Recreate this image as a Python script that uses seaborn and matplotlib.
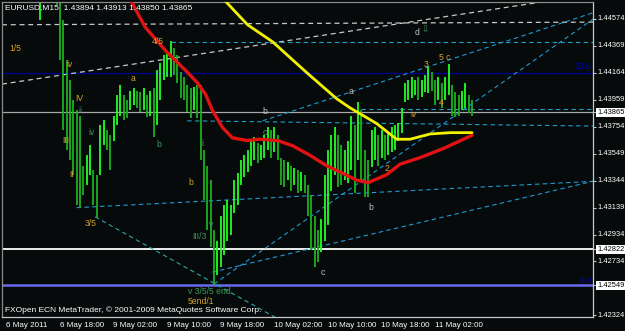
import numpy as np
import pandas as pd
import matplotlib
matplotlib.use("Agg")
import matplotlib.pyplot as plt
import matplotlib.transforms as mtransforms
import seaborn as sns

# ---------------- data ----------------
bar_idx = list(range(22, 282, 2))   # M15 bar index (every second bar)
bar_high = [1.4495, 1.4502, 1.4506, 1.4498, 1.4495, 1.4487, 1.4476, 1.4457, 1.4426, 1.4411,
            1.4396, 1.4388, 1.4384, 1.4346, 1.4354, 1.4362, 1.4343, 1.4339, 1.4377, 1.4381,
            1.4373, 1.4369, 1.4384, 1.4400, 1.4407, 1.4400, 1.4396, 1.4403, 1.4405, 1.4403,
            1.4402, 1.4405, 1.4400, 1.4403, 1.4405, 1.4419, 1.4424, 1.4430, 1.4432, 1.4441,
            1.4435, 1.4430, 1.4417, 1.4413, 1.4407, 1.4405, 1.4406, 1.4407, 1.4407, 1.4358,
            1.4346, 1.4335, 1.4297, 1.4289, 1.4308, 1.4316, 1.4320, 1.4316, 1.4335, 1.4340,
            1.4350, 1.4354, 1.4358, 1.4365, 1.4368, 1.4363, 1.4362, 1.4369, 1.4375, 1.4373,
            1.4375, 1.4369, 1.4352, 1.4350, 1.4349, 1.4346, 1.4344, 1.4343, 1.4341, 1.4339,
            1.4331, 1.4324, 1.4308, 1.4297, 1.4305, 1.4339, 1.4358, 1.4369, 1.4375, 1.4369,
            1.4362, 1.4358, 1.4365, 1.4384, 1.4377, 1.4394, 1.4388, 1.4358, 1.4350, 1.4373,
            1.4375, 1.4369, 1.4373, 1.4369, 1.4371, 1.4375, 1.4377, 1.4378, 1.4390, 1.4409,
            1.4411, 1.4413, 1.4411, 1.4413, 1.4411, 1.4415, 1.4421, 1.4417, 1.4411, 1.4413,
            1.4409, 1.4413, 1.4423, 1.4407, 1.4402, 1.4400, 1.4403, 1.4409, 1.4400, 1.4396]
bar_low = [1.4457, 1.4473, 1.4476, 1.4470, 1.4474, 1.4468, 1.4426, 1.4373, 1.4358, 1.4350,
           1.4339, 1.4316, 1.4314, 1.4324, 1.4331, 1.4339, 1.4316, 1.4306, 1.4339, 1.4362,
           1.4358, 1.4343, 1.4365, 1.4377, 1.4384, 1.4381, 1.4382, 1.4388, 1.4392, 1.4390,
           1.4387, 1.4388, 1.4383, 1.4384, 1.4368, 1.4377, 1.4396, 1.4411, 1.4413, 1.4413,
           1.4415, 1.4409, 1.4397, 1.4396, 1.4387, 1.4382, 1.4388, 1.4382, 1.4350, 1.4320,
           1.4297, 1.4284, 1.4255, 1.4263, 1.4269, 1.4278, 1.4289, 1.4293, 1.4310, 1.4316,
           1.4331, 1.4337, 1.4341, 1.4346, 1.4350, 1.4348, 1.4350, 1.4352, 1.4358, 1.4352,
           1.4356, 1.4350, 1.4331, 1.4330, 1.4335, 1.4327, 1.4331, 1.4325, 1.4327, 1.4325,
           1.4308, 1.4282, 1.4269, 1.4273, 1.4280, 1.4289, 1.4301, 1.4327, 1.4339, 1.4330,
           1.4331, 1.4335, 1.4333, 1.4343, 1.4325, 1.4350, 1.4335, 1.4322, 1.4322, 1.4345,
           1.4350, 1.4346, 1.4352, 1.4350, 1.4354, 1.4356, 1.4358, 1.4365, 1.4371, 1.4394,
           1.4396, 1.4397, 1.4400, 1.4396, 1.4398, 1.4402, 1.4401, 1.4403, 1.4392, 1.4396,
           1.4390, 1.4396, 1.4400, 1.4384, 1.4383, 1.4384, 1.4388, 1.4390, 1.4386, 1.4384]

red_idx = [69, 76, 85, 98, 110, 116, 121, 125, 131, 137, 146, 153, 164, 173, 183, 193,
           203, 211, 218, 229, 237, 249, 263, 280]
red_ma = [1.4491, 1.4472, 1.4451, 1.4432, 1.4417, 1.4409, 1.4400, 1.4388, 1.4375, 1.4367,
          1.4365, 1.4366, 1.4365, 1.4361, 1.4354, 1.4346, 1.4340, 1.4335, 1.4333, 1.4339,
          1.4347, 1.4352, 1.4359, 1.4369]
yel_idx = [128, 132, 146, 161, 181, 199, 207, 223, 235, 243, 255, 267, 280]
yel_ma = [1.4481, 1.4472, 1.4453, 1.4440, 1.4417, 1.4397, 1.4390, 1.4378, 1.4366, 1.4366,
          1.4370, 1.4371, 1.4371]

x_tick_idx = [0, 32, 64, 96, 128, 160, 192, 224, 256]
x_tick_lbl = ["6 May 2011", "6 May 18:00", "9 May 02:00", "9 May 10:00", "9 May 18:00",
              "10 May 02:00", "10 May 10:00", "10 May 18:00", "11 May 02:00"]
y_tick_val = [1.44574, 1.44369, 1.44164, 1.43959, 1.43754, 1.43549, 1.43344, 1.43139,
              1.42934, 1.42734, 1.42324]
y_box_val = [1.43865, 1.42822, 1.42549]

# wave labels: text, bar index, price, colour key
labels = [("1/5", 4, 1.4435, "o"), ("iv", 37.6, 1.4423, "o"), ("4/5", 89, 1.4440, "o"),
          ("a", 76.4, 1.4412, "o"), ("IV", 43, 1.4397, "o"), ("ii", 44.8, 1.4388, "g"),
          ("III", 35.2, 1.4365, "o"), ("II", 39.4, 1.4339, "o"), ("iv", 50.7, 1.4371, "g"),
          ("b", 91.3, 1.4362, "g"), ("i", 118.2, 1.4363, "g"), ("b", 110.4, 1.4333, "o"),
          ("3/5", 49, 1.4302, "o"), ("III/3", 112.8, 1.4292, "g"), ("v", 123, 1.4301, "g"),
          ("v 3/5/5 end", 110.4, 1.42505, "g"), ("5end/1", 110.4, 1.42425, "o"),
          ("c", 155.2, 1.4371, "g"), ("b", 154.6, 1.4387, "w"), ("a", 206.6, 1.4402, "w"),
          ("2", 228, 1.4344, "o"), ("b", 218, 1.4314, "w"), ("c", 189.9, 1.4265, "w"),
          ("iv", 243, 1.4385, "o"), ("3", 251.3, 1.4423, "o"), ("5 c", 260.3, 1.4428, "o"),
          ("4", 260.3, 1.4394, "o"), ("d", 246, 1.4447, "w"), ("\u21e9", 249.8, 1.4449, "g")]

# trend lines (bar index, price) anchors
rays_cyan = [((44, 1.4314), (352, 1.4334)), ((126, 1.4256), (352, 1.4457)),
             ((125, 1.4265), (352, 1.4334)), ((155, 1.4380), (352, 1.4462))]
rays_teal = [((55, 1.4307), (125.4, 1.4257))]
segs_cyan = [((100, 1.4440), (353, 1.4440)), ((214, 1.4389), (353, 1.4389)),
             ((110, 1.4380), (353, 1.4376))]
white_lines = [((0, 1.4453), (350, 1.4455)), ((0, 1.4408), (320, 1.4470))]

# ---------------- style ----------------
BG = "#060a0a"
sns.set_style("dark", {"axes.facecolor": BG, "figure.facecolor": BG,
                       "axes.edgecolor": "#a0a0a0", "grid.color": BG})
plt.rcParams['font.family'] = ['Liberation Sans', 'DejaVu Sans']

fig = plt.figure(figsize=(6.25, 3.31), dpi=100)
fig.patch.set_facecolor(BG)
ax = fig.add_axes([2 / 625, 14 / 331, 591 / 625, 315 / 331])
ax.set_facecolor(BG)

XL = (-0.6, 352.24)
YL = (1.42309, 1.44703)

# horizontal levels
ax.axhline(1.44164, color="#00008c", lw=1.0, zorder=1)
ax.axhline(1.43865, color="#a8a8a8", lw=0.9, zorder=1)
ax.axhline(1.42822, color="#ffffff", lw=1.3, zorder=1)
ax.axhline(1.42549, color="#6a6af0", lw=1.8, zorder=1)

dash = (0, (4, 3))
for (a, b) in white_lines:
    ax.axline(a, b, color="#c8c8c8", lw=0.9, ls=dash, zorder=1)
for (a, b) in rays_cyan:
    t = 20
    ax.plot([a[0], a[0] + (b[0] - a[0]) * t], [a[1], a[1] + (b[1] - a[1]) * t],
            color="#1e9bd2", lw=0.8, ls=dash, zorder=1)
for (a, b) in rays_teal:
    t = 20
    ax.plot([a[0], a[0] + (b[0] - a[0]) * t], [a[1], a[1] + (b[1] - a[1]) * t],
            color="#28a8a8", lw=0.8, ls=dash, zorder=1)
for (a, b) in segs_cyan:
    ax.plot([a[0], b[0]], [a[1], b[1]], color="#1ea0c8", lw=0.8, ls=dash, zorder=1)

# bars
mids = [(h + l) / 2 for h, l in zip(bar_high, bar_low)]
cols = ["#22ff22" if k == 0 or mids[k] >= mids[k - 1] else "#1cb01c" for k in range(len(mids))]
ax.vlines(bar_idx, bar_low, bar_high, colors=cols, lw=1.3, zorder=2)

# moving averages
sns.lineplot(x=red_idx, y=red_ma, ax=ax, color="#e01212", lw=2.4, sort=False,
             estimator=None, zorder=3)
sns.lineplot(x=yel_idx, y=yel_ma, ax=ax, color="#f2f200", lw=2.0, sort=False,
             estimator=None, zorder=3)

# labels
cmap = {"o": "#d2a22a", "g": "#3d9a5a", "w": "#c0c0c0"}
for txt, xi, p, c in labels:
    ax.text(xi, p, txt, color=cmap[c], fontsize=6.2, ha="left", va="center", zorder=4)
ax.text(351.5, 1.4421, "23.6", color="#0000b4", fontsize=6.2, ha="right", va="center", zorder=4)
ax.text(351.5, 1.4259, "0.0", color="#0000b4", fontsize=6.2, ha="right", va="center", zorder=4)

ax.text(0.005, 0.981, "EURUSD,M15  1.43894 1.43913 1.43850 1.43865", transform=ax.transAxes,
        color="white", fontsize=6, ha="left", va="center", zorder=5)
ax.text(0.005, 0.021, "FXOpen ECN MetaTrader, \u00a9 2001-2009 MetaQuotes Software Corp.",
        transform=ax.transAxes, color="white", fontsize=6, ha="left", va="center", zorder=5)

ax.set_xlim(*XL)
ax.set_ylim(*YL)

# ticks
ax.set_xticks(x_tick_idx)
ax.set_xticklabels([])
ax.yaxis.tick_right()
ax.set_yticks(y_tick_val + y_box_val)
ax.set_yticklabels([])
ax.tick_params(axis="both", direction="out", length=2.5, width=0.8, colors="#c0c0c0")
ax.grid(False)

xtr = mtransforms.blended_transform_factory(ax.transData, ax.transAxes)
for xi, lb in zip(x_tick_idx, x_tick_lbl):
    ax.text(xi + 1.8, -0.026, lb, transform=xtr, color="white", fontsize=5.8,
            ha="left", va="center", clip_on=False)
ytr = mtransforms.blended_transform_factory(ax.transAxes, ax.transData)
for v in y_tick_val:
    ax.text(1.0075, v, f"{v:.5f}", transform=ytr, color="white", fontsize=5.4,
            ha="left", va="center", clip_on=False)
for v in y_box_val:
    ax.text(1.0075, v, f"{v:.5f}", transform=ytr, color="black", fontsize=5.4,
            ha="left", va="center", clip_on=False,
            bbox=dict(facecolor="white", edgecolor="none", pad=0.8))

for s in ["left", "top"]:
    ax.spines[s].set_color("#8a8a8a")
for s in ["right", "bottom"]:
    ax.spines[s].set_color("#c8c8c8")
for s in ax.spines.values():
    s.set_linewidth(0.9)

fig.savefig("out.png", dpi=100, facecolor=BG)
